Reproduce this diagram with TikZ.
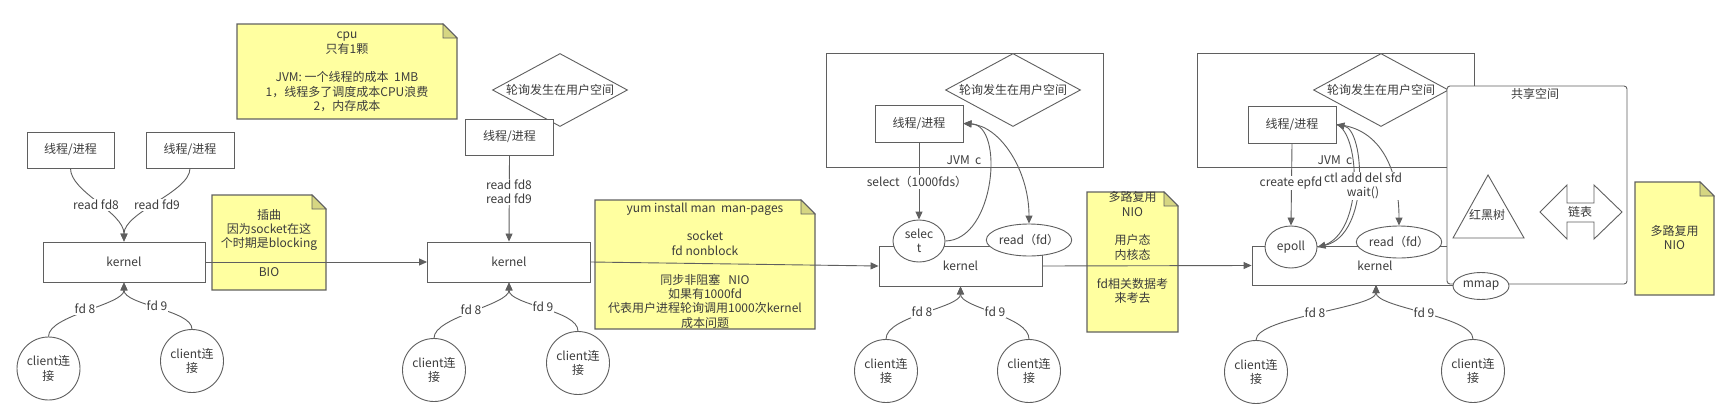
\documentclass[tikz,border=0pt]{standalone}
\usepackage{fontspec}
\setmainfont{Noto Sans CJK SC}
\usetikzlibrary{arrows.meta,shapes.geometric}
\definecolor{linec}{RGB}{95,95,95}
\definecolor{txtc}{RGB}{60,60,60}
\definecolor{notey}{RGB}{255,255,160}
\definecolor{foldc}{RGB}{214,214,130}
\tikzset{
  every node/.style={font=\fontsize{12}{14.4}\selectfont, text=txtc},
  box/.style={draw=linec, fill=white, line width=0.9pt, inner sep=0pt, align=center},
  ell/.style={ellipse, draw=linec, fill=white, line width=0.9pt, inner sep=0pt, align=center},
  circ/.style={circle, draw=linec, fill=white, line width=0.9pt, inner sep=0pt, minimum size=63pt, align=center},
  dia/.style={diamond, draw=linec, fill=white, line width=0.9pt, inner sep=0pt, aspect=1.85, minimum width=135pt, minimum height=73pt},
  lbl/.style={fill=white, inner sep=1pt, align=center},
  plain/.style={inner sep=0pt, align=center},
  conn/.style={draw=linec, line width=0.9pt},
  tipa/.tip={Triangle[length=8pt,width=7pt]},
  arr/.style={conn, -tipa},
  notest/.style={draw=black!62, fill=notey, line width=1.2pt, line join=miter},
  foldst/.style={draw=black!62, fill=foldc, line width=0.8pt},
}
\newcommand\drawnote[4]{%
  \draw[notest] (#1,#2) -- ({#3-14},#2) -- (#3,{#2+14}) -- (#3,#4) -- (#1,#4) -- cycle;
  \draw[foldst] ({#3-14},#2) -- (#3,{#2+14}) -- ({#3-14},{#2+14}) -- cycle;}
\begin{document}
\begin{tikzpicture}[x=1pt,y=-1pt]
\fill[white] (0,0) rectangle (1723,415);
\useasboundingbox (0,0) rectangle (1723,415);

% ---------------- notes ----------------
\drawnote{237}{24}{457}{119}
\node[plain] (n1) at (347,72) {cpu\\只有1颗\\[14.4pt]JVM: 一个线程的成本\ \ 1MB\\1，线程多了调度成本CPU浪费\\2，内存成本};
\drawnote{212}{195}{326}{290}
\node[plain] (n2) at (269,243) {插曲\\因为socket在这\\个时期是blocking\\[14.4pt]BIO};
\drawnote{595}{200}{815}{329}
\node[plain] (n3) at (705,265.5) {yum install man\ \ man-pages\\[14.4pt]socket\\fd nonblock\\[14.4pt]同步非阻塞\ \ \ NIO\\如果有1000fd\\代表用户进程轮询调用1000次kernel\\成本问题};
\drawnote{1087}{192}{1178}{332}
\node[plain] (n4) at (1132.5,247.5) {多路复用\\NIO\\[14.4pt]用户态\\内核态\\[14.4pt]fd相关数据考\\来考去};
\drawnote{1635}{182}{1714}{295}
\node[plain] (n5) at (1674.5,237.5) {多路复用\\NIO};

% ---------------- section 1 ----------------
\node[box, minimum width=87pt, minimum height=36pt] (t1) at (70.5,150) {线程/进程};
\node[box, minimum width=88pt, minimum height=36pt] (t2) at (190,150) {线程/进程};
\node[box, minimum width=162pt, minimum height=40pt] (k1) at (124,262) {kernel};
\node[circ] (c1) at (48.5,368.5) {client连\\接};
\node[circ] (c2) at (192,361) {client连\\接};
\draw[arr] (t1.south) .. controls (70.5,192) and (124,212) .. (k1.north);
\draw[arr] (t2.south) .. controls (190,192) and (124,212) .. (k1.north);
\node[lbl] (l1) at (96,205) {read fd8};
\node[lbl] (l2) at (157,205) {read fd9};
\draw[arr] (c1.north) .. controls (48.5,315) and (124,305) .. (k1.south);
\draw[arr] (c2.north) .. controls (192,310) and (124,305) .. (k1.south);
\node[lbl] (l3) at (85,309) {fd 8};
\node[lbl] (l4) at (157,306) {fd 9};

% ---------------- section 2 ----------------
\node[dia] (d2) at (560,90) {轮询发生在用户空间};
\node[box, minimum width=88pt, minimum height=36pt] (t3) at (509.5,137) {线程/进程};
\node[box, minimum width=163pt, minimum height=40pt] (k2) at (509,262) {kernel};
\node[circ] (c3) at (434,370) {client连\\接};
\node[circ] (c4) at (578,363) {client连\\接};
\draw[arr] (t3.south) -- (k2.north);
\node[lbl] (l5) at (509,192) {read fd8\\read fd9};
\draw[arr] (c3.north) .. controls (434,317) and (509,305) .. (k2.south);
\draw[arr] (c4.north) .. controls (578,310) and (509,305) .. (k2.south);
\node[lbl] (l6) at (471,310) {fd 8};
\node[lbl] (l7) at (543,307) {fd 9};
\draw[arr] (k1.east) -- (k2.west);

% ---------------- section 3 ----------------
\node[box, minimum width=277pt, minimum height=114pt] (j3) at (964.5,110) {};
\node[dia] (d3) at (1013,90) {轮询发生在用户空间};
\node[box, minimum width=88pt, minimum height=37pt] (t4) at (919,123.5) {线程/进程};
\node[plain] (jv3) at (964,160) {JVM\ \ c};
\node[box, minimum width=163pt, minimum height=40pt] (k3) at (960.5,266) {kernel};
\node[ell, minimum width=52pt, minimum height=42pt] (sel) at (919,241) {selec\\t};
\node[ell, minimum width=84pt, minimum height=32pt] (r3) at (1029,240) {read（fd）};
\node[circ] (c5) at (886,371) {client连\\接};
\node[circ] (c6) at (1029,371) {client连\\接};
\draw[arr] (t4.south) -- (sel.north);
\node[lbl] (l8) at (917,182) {select（1000fds）};
\draw[arr] (sel.east) .. controls (995,240) and (1005,125) .. (t4.east);
\draw[conn, tipa-tipa] (t4.east) .. controls (1000,126) and (1029,170) .. (r3.north);
\draw[arr] (c5.north) .. controls (886,316) and (960.5,308) .. (k3.south);
\draw[arr] (c6.north) .. controls (1029,316) and (960.5,308) .. (k3.south);
\node[lbl] (l9) at (922,312) {fd 8};
\node[lbl] (l10) at (995,312) {fd 9};
\draw[arr] (k2.east) -- (k3.west);

% ---------------- section 4 ----------------
\node[box, minimum width=277pt, minimum height=114pt] (j4) at (1335.5,110) {};
\node[dia] (d4) at (1381,90) {轮询发生在用户空间};
\node[box, minimum width=88pt, minimum height=37pt] (t5) at (1292,124.5) {线程/进程};
\node[plain] (jv4) at (1335,160) {JVM\ \ c};
\node[box, minimum width=203pt, minimum height=39pt] (k4) at (1353.5,265.5) {};
\node[plain] (k4t) at (1375,266) {kernel};
\node[ell, minimum width=52pt, minimum height=42pt] (ep) at (1291,247) {epoll};
\node[ell, minimum width=84pt, minimum height=32pt] (r4) at (1399,242) {read（fd）};
\node[box, rounded corners=3pt, minimum width=180pt, minimum height=198pt] (sh) at (1537,185) {};
\node[plain] (sht) at (1535,94) {共享空间};
\node[ell, minimum width=56pt, minimum height=27pt] (mm) at (1481,286) {mmap};
\draw[conn, fill=white, line join=miter] (1488,175) -- (1524,238) -- (1453,238) -- cycle;
\node[plain] (rb) at (1487,215) {红黑树};
\draw[conn, fill=white, line join=miter] (1540,212) -- (1567,185) -- (1567,203) -- (1594,203) -- (1594,185) -- (1622,212) -- (1594,239) -- (1594,222) -- (1567,222) -- (1567,239) -- cycle;
\node[plain] (lb) at (1580,212) {链表};
\node[circ] (c7) at (1256,372) {client连\\接};
\node[circ] (c8) at (1473,371) {client连\\接};
\coordinate (k4b) at (1376,285);
\draw[arr] (t5.south) -- (ep.north);
\node[lbl] (l11) at (1291,183) {create epfd};
\draw[conn, tipa-tipa] (t5.east) .. controls (1365,130) and (1370,235) .. (ep.east);
\draw[conn] (t5.east) .. controls (1361,133) and (1365,241) .. (ep.east);
\draw[arr] (t5.east) .. controls (1382,128) and (1399,172) .. (r4.north);
\node[lbl] (l12) at (1363,186) {ctl add del sfd\\wait()};
\draw[arr] (c7.north) .. controls (1256,317) and (1376,308) .. (k4b);
\draw[arr] (c8.north) .. controls (1473,316) and (1376,308) .. (k4b);
\node[lbl] (l13) at (1315,313) {fd 8};
\node[lbl] (l14) at (1424,313) {fd 9};
\draw[arr] (k3.east) -- (k4.west);
\end{tikzpicture}
\end{document}
